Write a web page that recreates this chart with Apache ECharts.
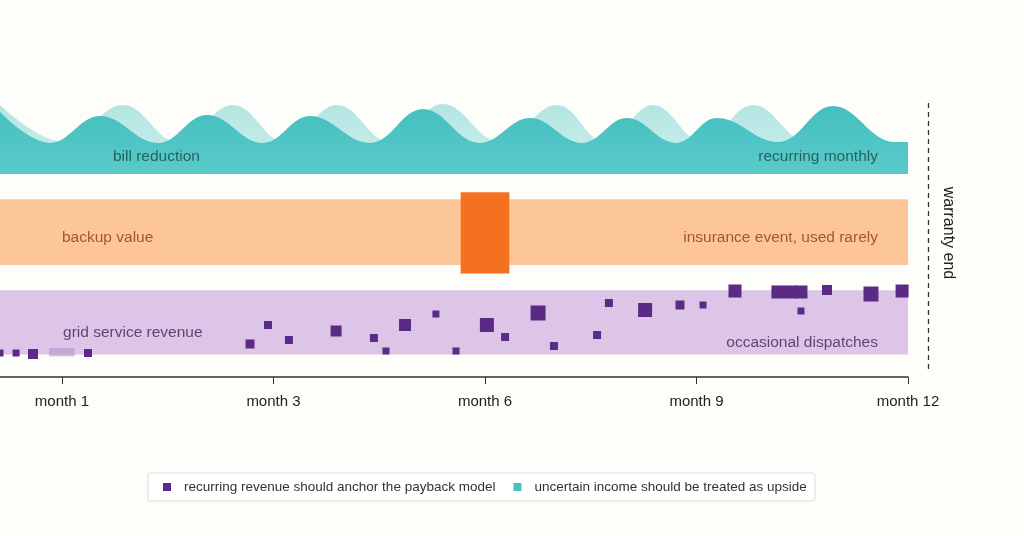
<!DOCTYPE html>
<html>
<head>
<meta charset="utf-8">
<title>payback lanes</title>
<script src="https://cdn.jsdelivr.net/npm/echarts@6.0.0/dist/echarts.min.js"></script>
<style>
  html, body { margin: 0; padding: 0; background: #fdfdfa; }
  #main { width: 1024px; height: 536px; }
</style>
</head>
<body>
<div id="main"></div>
<script>
// tick labels sit evenly on the position axis
const monthTicks = [0, 1, 2, 3, 4];
const monthLabels = ['month 1', 'month 3', 'month 6', 'month 9', 'month 12'];

// bill reduction waves, [position, level] at crests and troughs
const billFront = [
  [-0.293, 9.46], [-0.057, 8.36], [0.180, 9.32], [0.454, 8.36], [0.686, 9.36],
  [0.950, 8.36], [1.173, 9.32], [1.456, 8.36], [1.707, 9.57], [1.976, 8.36],
  [2.213, 9.25], [2.459, 8.36], [2.671, 9.25], [2.903, 8.36], [3.097, 9.25],
  [3.385, 8.39], [3.645, 9.68], [3.939, 8.39], [4.0, 8.39]
];
const billBack = [
  [-0.293, 9.71], [0.009, 8.39], [0.288, 9.71], [0.548, 8.39], [0.809, 9.71],
  [1.054, 8.39], [1.300, 9.71], [1.551, 8.39], [1.801, 9.75], [2.071, 8.39],
  [2.340, 9.71], [2.567, 8.39], [2.794, 9.71], [3.031, 8.39], [3.267, 9.71],
  [3.537, 8.39], [4.0, 8.39]
];
const billBase = 7.25;

// lanes [from level, to level]
const backupBand = [4.0, 6.35];
const gridBand = [0.8, 3.1];
// the one insurance event [from pos, to pos, from level, to level]
const backupEvent = [1.885, 2.115, 3.7, 6.6];

// grid dispatches [position, level, size]
const dispatches = [
  [-0.293, 0.857, 7], [-0.217, 0.857, 7], [-0.137, 0.821, 10], [0.123, 0.857, 8],
  [0.889, 1.179, 9], [0.974, 1.857, 8], [1.073, 1.321, 8], [1.296, 1.643, 11],
  [1.475, 1.393, 8], [1.532, 0.929, 7], [1.622, 1.857, 12], [1.768, 2.25, 7],
  [1.863, 0.929, 7], [2.009, 1.857, 14], [2.095, 1.429, 8], [2.251, 2.286, 15],
  [2.326, 1.107, 8], [2.530, 1.5, 8], [2.586, 2.643, 8], [2.757, 2.393, 14],
  [2.922, 2.571, 9], [3.031, 2.571, 7], [3.182, 3.071, 13], [3.385, 3.036, 13],
  [3.442, 3.036, 13], [3.494, 3.036, 13], [3.494, 2.357, 7], [3.617, 3.107, 10],
  [3.825, 2.964, 15], [3.972, 3.071, 13]
];
const fadedDispatches = [[-0.041, 0.89, 8.5], [-0.001, 0.89, 8.5], [0.039, 0.89, 8.5]];

// lane captions [position, level, text, side]
const laneText = [
  [0.241, 7.86, 'bill reduction', 'start'],
  [3.858, 7.86, 'recurring monthly', 'end'],
  [0.0, 4.97, 'backup value', 'start'],
  [3.858, 4.97, 'insurance event, used rarely', 'end'],
  [0.005, 1.57, 'grid service revenue', 'start'],
  [3.858, 1.22, 'occasional dispatches', 'end']
];
const laneTextColor = ['#17484b', '#17484b', '#8a3c0c', '#8a3c0c', '#3d1f55', '#3d1f55'];

const legendNames = ['recurring revenue should anchor the payback model', 'uncertain income should be treated as upside'];

const FONT = 'Liberation Sans';
const chart = echarts.init(document.getElementById('main'));

const option = {
  backgroundColor: '#fdfdfa',
  animation: false,
  grid: { left: 0, right: 116, top: 97, bottom: 159 },
  xAxis: {
    type: 'value',
    min: -0.293,
    max: 4,
    axisLine: { lineStyle: { color: '#333', width: 1.5 } },
    axisTick: { customValues: monthTicks, length: 7, lineStyle: { color: '#333', width: 1 } },
    axisLabel: {
      customValues: monthTicks,
      formatter: function (v) { return monthLabels[Math.round(v)]; },
      color: '#222', fontSize: 15, fontFamily: FONT, margin: 17
    },
    splitLine: { show: false }
  },
  yAxis: { type: 'value', min: 0, max: 10, show: false },
  legend: {
    left: 148,
    top: 473,
    data: [
      { name: legendNames[0], itemStyle: { color: '#5b2a86' } },
      { name: legendNames[1], itemStyle: { color: '#45c1c0' } }
    ],
    icon: 'rect',
    itemWidth: 8,
    itemHeight: 8,
    itemGap: 18,
    padding: [7, 8, 7, 15],
    borderColor: '#dcdcdc',
    borderWidth: 1,
    borderRadius: 3,
    backgroundColor: '#ffffff',
    textStyle: { color: '#333', fontSize: 13.5, fontFamily: FONT, padding: [0, 0, 0, 8] }
  },
  series: [
    {
      name: 'lanes',
      type: 'line',
      data: [],
      z: 0,
      silent: true,
      markArea: {
        silent: true,
        data: [
          [{ xAxis: -0.293, yAxis: backupBand[0], itemStyle: { color: '#fdc699' } },
           { xAxis: 4, yAxis: backupBand[1] }],
          [{ xAxis: -0.293, yAxis: gridBand[0], itemStyle: { color: '#ddc5e8' } },
           { xAxis: 4, yAxis: gridBand[1] }],
          [{ xAxis: backupEvent[0], yAxis: backupEvent[2], itemStyle: { color: '#f4711f', borderRadius: 2 } },
           { xAxis: backupEvent[1], yAxis: backupEvent[3] }]
        ]
      }
    },
    {
      name: 'bill back',
      type: 'line',
      data: billBack,
      smooth: 0.4,
      symbol: 'none',
      silent: true,
      z: 1,
      lineStyle: { width: 0 },
      areaStyle: {
        origin: billBase,
        opacity: 1,
        color: new echarts.graphic.LinearGradient(0, 0, 0, 1, [
          { offset: 0, color: '#b3e5e2' },
          { offset: 1, color: '#cdf0ee' }
        ])
      }
    },
    {
      name: legendNames[1],
      type: 'line',
      data: billFront,
      smooth: 0.4,
      symbol: 'none',
      silent: true,
      z: 2,
      itemStyle: { color: '#45c1c0' },
      lineStyle: { width: 0 },
      areaStyle: {
        origin: billBase,
        opacity: 1,
        color: new echarts.graphic.LinearGradient(0, 0, 0, 1, [
          { offset: 0, color: '#45bfbf' },
          { offset: 1, color: '#5acaca' }
        ])
      }
    },
    {
      name: 'faded',
      type: 'scatter',
      data: fadedDispatches,
      symbol: 'rect',
      symbolSize: function (d) { return d[2]; },
      itemStyle: { color: '#b592c9', opacity: 0.6 },
      silent: true,
      z: 4
    },
    {
      name: legendNames[0],
      type: 'scatter',
      data: dispatches,
      symbol: 'rect',
      symbolSize: function (d) { return d[2]; },
      itemStyle: { color: '#5b2a86', opacity: 1 },
      clip: false,
      z: 5
    },
    {
      name: 'captions',
      type: 'scatter',
      symbolSize: 0,
      silent: true,
      z: 6,
      data: laneText.map(function (d, i) {
        return {
          value: [d[0], d[1]],
          label: {
            show: true,
            formatter: d[2],
            position: d[3] === 'start' ? 'right' : 'left',
            distance: 0,
            color: laneTextColor[i],
            fontSize: 15.5,
            fontFamily: FONT
          }
        };
      })
    }
  ],
  graphic: [
    {
      type: 'line',
      silent: true,
      shape: { x1: 928.5, y1: 103, x2: 928.5, y2: 372 },
      style: { stroke: '#333', lineWidth: 1.3, lineDash: [5, 4] }
    },
    {
      type: 'text',
      silent: true,
      x: 948,
      y: 233,
      rotation: -Math.PI / 2,
      style: {
        text: 'warranty end',
        font: '16px "Liberation Sans"',
        fill: '#222',
        textAlign: 'center',
        textVerticalAlign: 'middle'
      }
    }
  ]
};

chart.setOption(option);
</script>
</body>
</html>
